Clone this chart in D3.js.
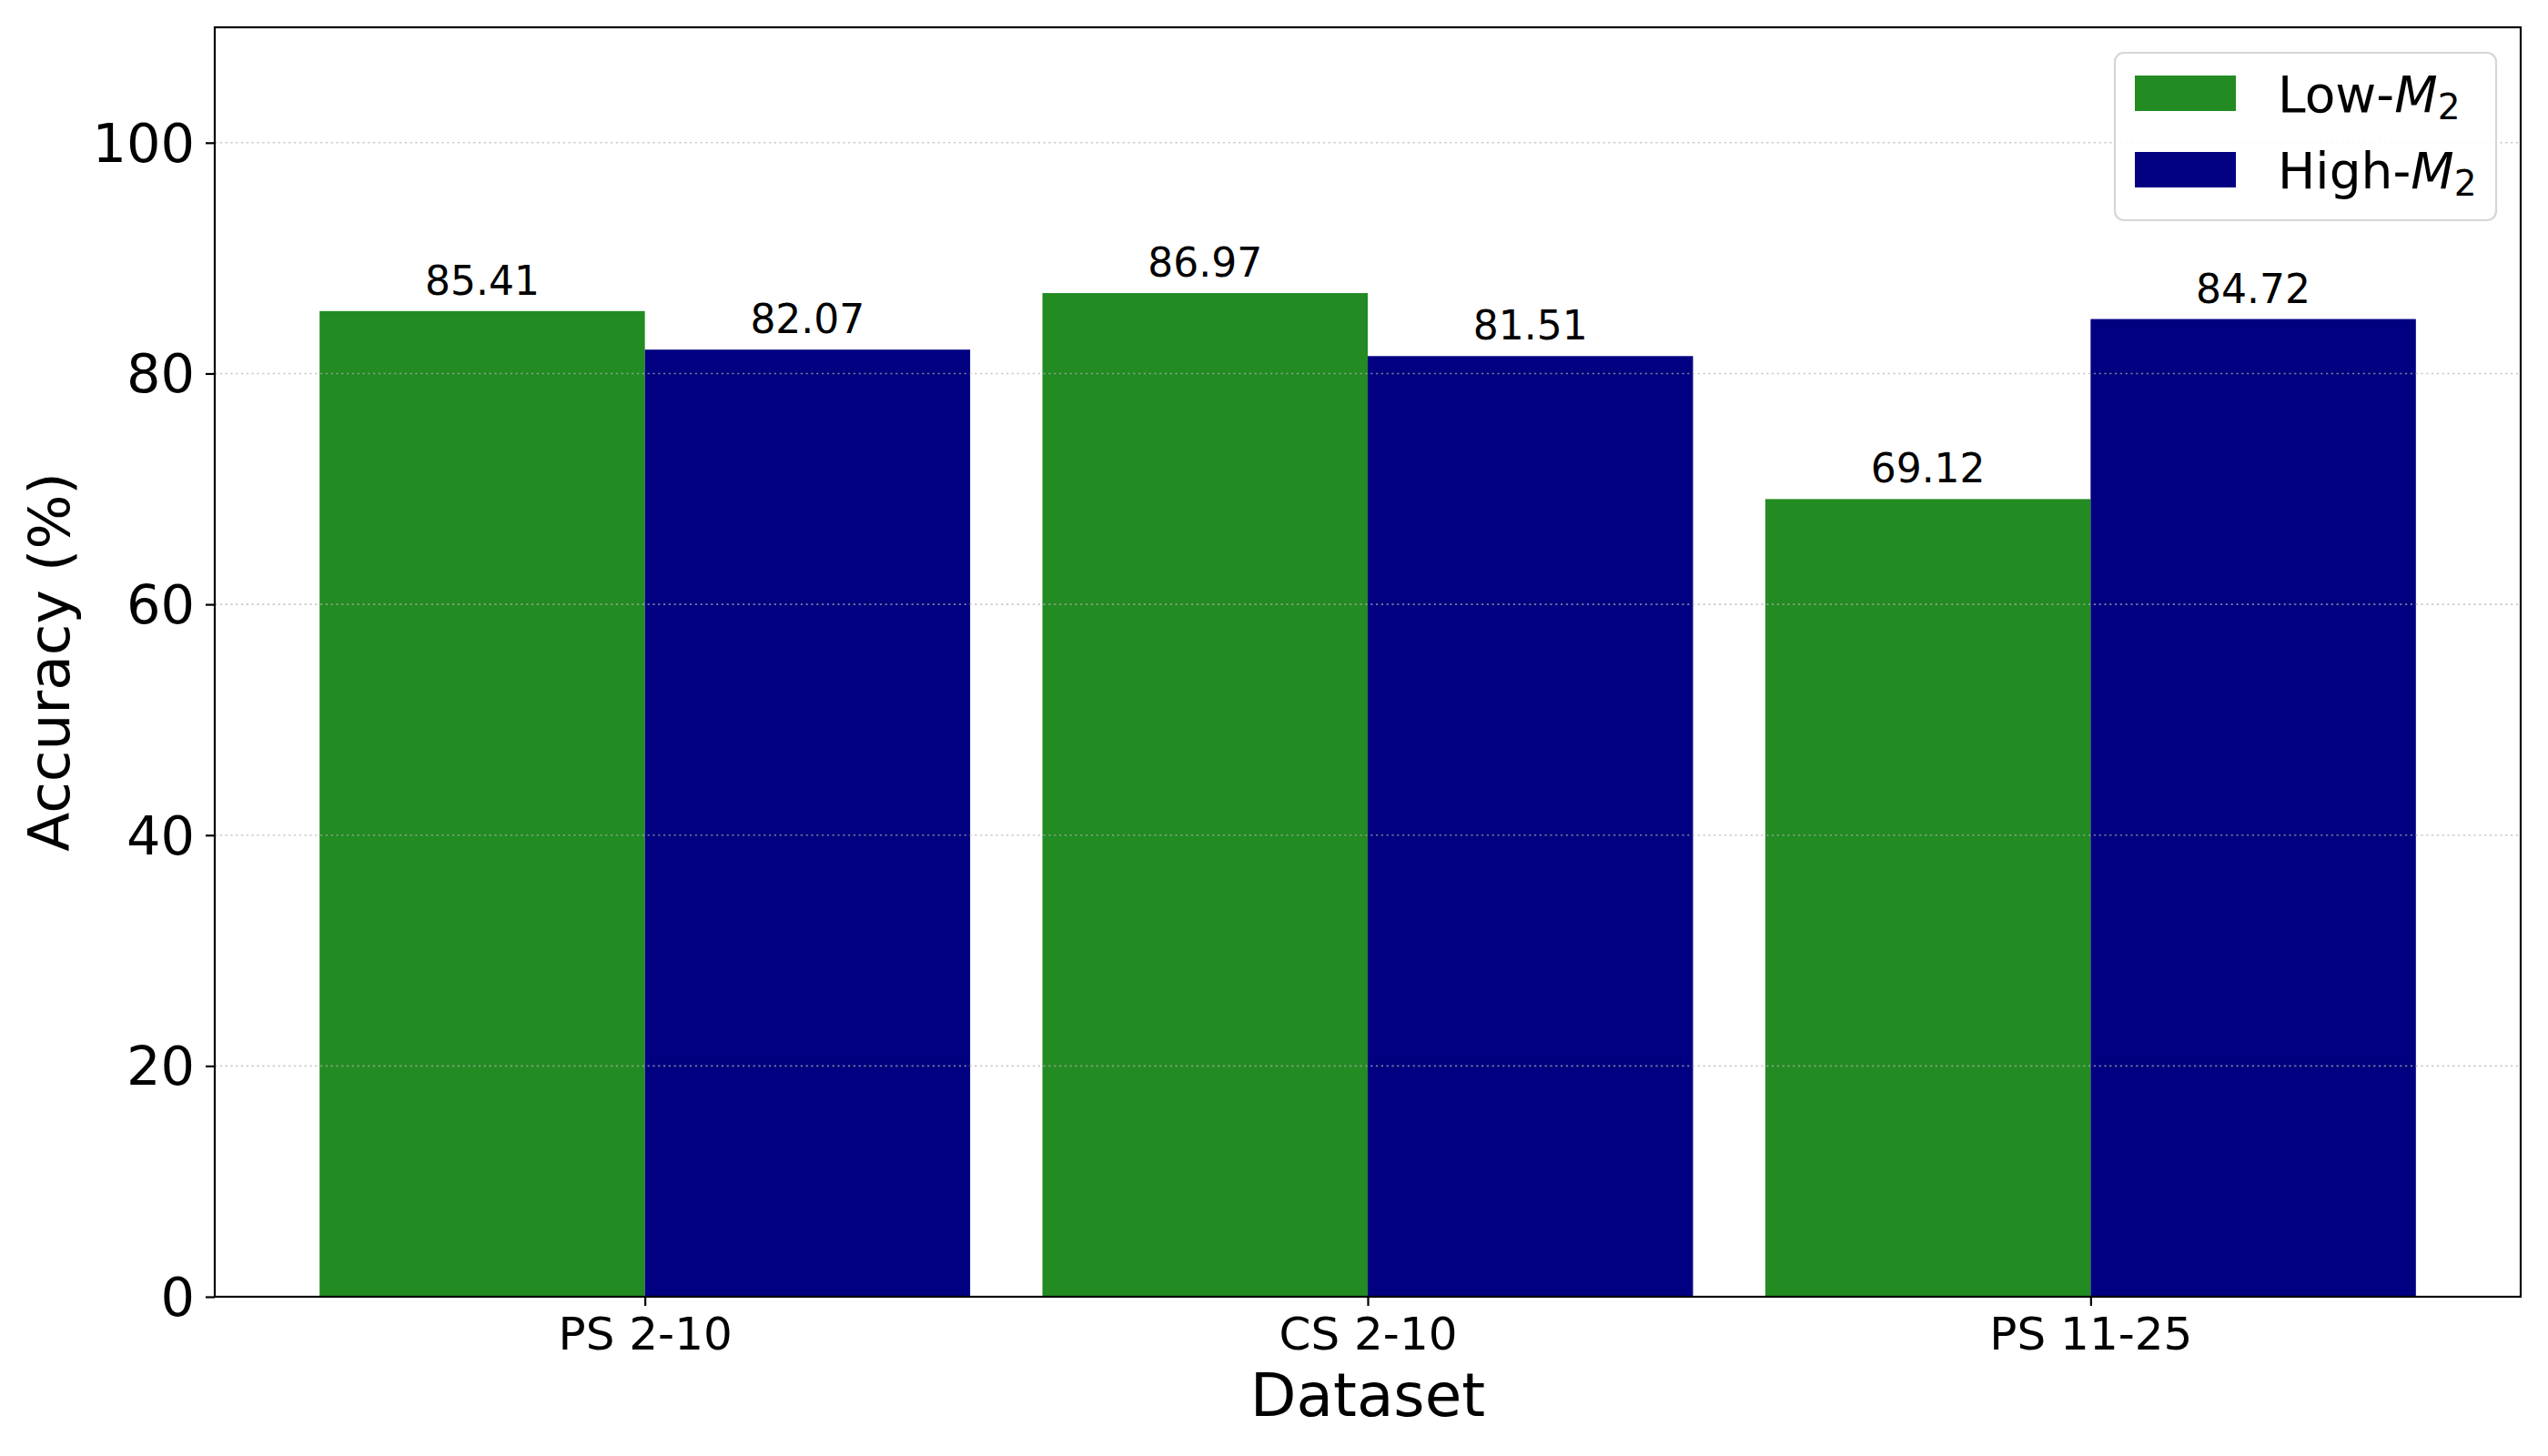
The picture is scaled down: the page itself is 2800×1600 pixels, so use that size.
<!DOCTYPE html>
<html>
<head>
<meta charset="utf-8">
<script src="https://cdn.jsdelivr.net/npm/d3@7"></script>
<style>
  html, body { margin: 0; padding: 0; background: #ffffff; }
  svg text { font-family: "DejaVu Sans", sans-serif; fill: #000; }
</style>
</head>
<body>
<svg id="chart" width="2800" height="1600"></svg>
<script>
// ---- data ----
const categories = ["PS 2-10", "CS 2-10", "PS 11-25"];
const lowM2 = [85.41, 86.97, 69.12];
const highM2 = [82.07, 81.51, 84.72];
const yTicks = [0, 20, 40, 60, 80, 100];
const seriesNames = ["Low-", "High-"];
const seriesColors = ["#228B22", "#000080"];

// ---- layout ----
const W = 2800, H = 1600;
const plot = { left: 236, right: 2770, top: 30, bottom: 1425 };
const barW = 0.45;

const svg = d3.select("#chart");
svg.append("rect").attr("width", W).attr("height", H).attr("fill", "#fff");

const x = d3.scaleLinear().domain([-0.595, 2.595]).range([plot.left, plot.right]);
const y = d3.scaleLinear().domain([0, 110]).range([plot.bottom, plot.top]);

// bars
const series = [lowM2, highM2];
series.forEach((vals, s) => {
  const g = svg.append("g");
  g.selectAll("rect").data(vals).join("rect")
    .attr("x", (d, i) => x(i + (s === 0 ? -barW : 0)))
    .attr("width", (d, i) => x(i + barW) - x(i))
    .attr("y", d => y(d))
    .attr("height", d => y(0) - y(d))
    .attr("fill", seriesColors[s]);
  g.selectAll("text").data(vals).join("text")
    .attr("x", (d, i) => x(i + (s === 0 ? -barW / 2 : barW / 2)))
    .attr("y", d => y(d) - 18)
    .attr("text-anchor", "middle")
    .attr("font-size", 44)
    .text(d => d.toFixed(2));
});

// grid (drawn above bars, dotted)
svg.append("g").selectAll("line").data(yTicks).join("line")
  .attr("x1", plot.left).attr("x2", plot.right)
  .attr("y1", d => y(d)).attr("y2", d => y(d))
  .attr("stroke", "#b0b0b0").attr("stroke-opacity", 0.7)
  .attr("stroke-width", 1.6).attr("stroke-dasharray", "2.2,3.6");

// y axis
const yAxis = d3.axisLeft(y).tickValues(yTicks).tickSize(10).tickPadding(12).tickFormat(d3.format("d"));
const gy = svg.append("g").attr("transform", `translate(${plot.left},0)`).call(yAxis);
gy.select(".domain").remove();
gy.selectAll(".tick line").attr("stroke", "#000").attr("stroke-width", 2.2);
gy.selectAll(".tick text").attr("font-size", 59).attr("font-family", "DejaVu Sans").attr("fill", "#000")
  .attr("dy", null).attr("dominant-baseline", "central");

// x axis
const xAxis = d3.axisBottom(x).tickValues(categories.map((c, i) => i)).tickSize(10).tickPadding(12)
  .tickFormat(i => categories[i]);
const gx = svg.append("g").attr("transform", `translate(0,${plot.bottom})`).call(xAxis);
gx.select(".domain").remove();
gx.selectAll(".tick line").attr("stroke", "#000").attr("stroke-width", 2.2);
gx.selectAll(".tick text").attr("font-size", 50).attr("font-family", "DejaVu Sans").attr("fill", "#000")
  .attr("dy", "0.71em");

// frame
svg.append("rect")
  .attr("x", plot.left).attr("y", plot.top)
  .attr("width", plot.right - plot.left).attr("height", plot.bottom - plot.top)
  .attr("fill", "none").attr("stroke", "#000").attr("stroke-width", 2.2);

// axis labels
svg.append("text")
  .attr("x", (plot.left + plot.right) / 2).attr("y", 1556)
  .attr("text-anchor", "middle").attr("font-size", 66).text("Dataset");
svg.append("text")
  .attr("transform", `translate(76,${(plot.top + plot.bottom) / 2}) rotate(-90)`)
  .attr("text-anchor", "middle").attr("font-size", 63).text("Accuracy (%)");

// legend
const lg = svg.append("g");
lg.append("rect").attr("x", 2324).attr("y", 58).attr("width", 419).attr("height", 184)
  .attr("rx", 10).attr("ry", 10).attr("fill", "#fff").attr("fill-opacity", 0.85)
  .attr("stroke", "#d6d6d6").attr("stroke-width", 2.2);
const legendRows = [83, 167];
seriesNames.forEach((name, s) => {
  lg.append("rect").attr("x", 2346).attr("y", legendRows[s]).attr("width", 111).attr("height", 39)
    .attr("fill", seriesColors[s]);
  const t = lg.append("text").attr("x", 2503).attr("y", legendRows[s] + 40).attr("font-size", 55);
  t.append("tspan").text(name);
  t.append("tspan").attr("font-style", "italic").text("M");
  t.append("tspan").attr("font-size", 39).attr("dy", 8).text("2");
});
</script>
</body>
</html>
